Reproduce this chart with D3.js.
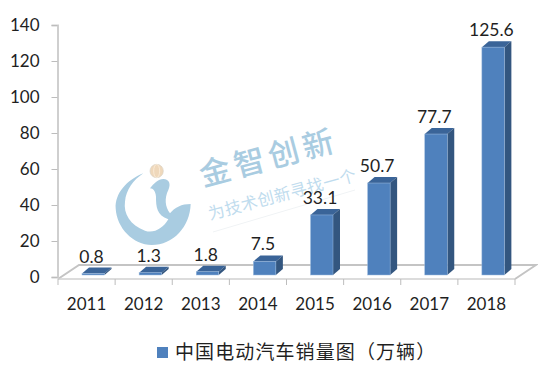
<!DOCTYPE html>
<html>
<head>
<meta charset="utf-8">
<script src="https://cdn.jsdelivr.net/npm/d3@7"></script>
<style>
    html, body { margin: 0; padding: 0; background: #fff; }
    svg { display: block; }
    text { fill: #1f1f1f; font-family: Lato, "Liberation Sans", sans-serif; }
</style>
</head>
<body>
<svg id="chart" width="538" height="372"></svg>
<script>
const years = ["2011", "2012", "2013", "2014", "2015", "2016", "2017", "2018"];
const sales = [0.8, 1.3, 1.8, 7.5, 33.1, 50.7, 77.7, 125.6];
const yTicks = [0, 20, 40, 60, 80, 100, 120, 140];
const legendLabel = "中国电动汽车销量图（万辆）";

const svg = d3.select("#chart");

const floor = { left: 58, right: 515, front: 279, back: 265, skewX: 21 };
const depth = { x: 7, y: 6 };
const barWidth = 22.5;
const cjkFont = '"Noto Sans CJK SC", sans-serif';

const x = d3.scaleBand().domain(years).range([floor.left, floor.right]);
const yAxisScale = d3.scaleLinear().domain([0, 140]).range([277, 25]);
const barScale = d3.scaleLinear().domain([0, 140]).range([275, 21]);

drawWatermark();
drawFloor();
drawAxes();
drawBars();
drawLegend();

function drawWatermark() {
    const color = "#a9cce1";
    const mark = svg.append("g").attr("id", "watermark");

    // logo traced at 3x, so the path reads the same as a zoomed crop
    const logo = mark.append("g").attr("transform", "translate(110,160) scale(0.3333)");
    logo.append("path")
        .attr("fill", color)
        .attr("d", "M100,40 C50,60 15,100 17,145 C20,205 70,255 125,255 C190,255 240,200 242,132 " +
            "C215,132 195,142 180,160 C165,140 163,115 175,90 C183,72 178,57 160,57 " +
            "C145,57 130,72 120,85 C130,85 137,95 138,110 C138,140 140,165 175,178 " +
            "C160,205 130,222 105,212 C60,195 40,160 45,125 C48,90 70,60 100,40 Z");
    logo.append("circle")
        .attr("cx", 140)
        .attr("cy", 33)
        .attr("r", 20)
        .attr("fill", "#efd8bb")
        .attr("stroke", "#d8d2c6")
        .attr("stroke-width", 2);
    logo.append("ellipse")
        .attr("cx", 140)
        .attr("cy", 33)
        .attr("rx", 9)
        .attr("ry", 20)
        .attr("fill", "none")
        .attr("stroke", "#fff3e2")
        .attr("stroke-width", 2);

    mark.append("text")
        .attr("transform", "translate(203,186.5) rotate(-15)")
        .style("font-family", cjkFont)
        .style("font-size", "31px")
        .style("font-weight", 500)
        .style("letter-spacing", "4.5px")
        .style("fill", color)
        .text("金智创新");
    mark.append("text")
        .attr("transform", "translate(210,220) rotate(-15)")
        .style("font-family", cjkFont)
        .style("font-size", "16.5px")
        .style("letter-spacing", "0.5px")
        .style("fill", "#bfdcee")
        .text("为技术创新寻找一个");
    mark.append("line")
        .attr("x1", 213)
        .attr("y1", 232)
        .attr("x2", 355)
        .attr("y2", 190)
        .attr("stroke", "#f0f3f5");
}

function drawFloor() {
    const g = svg.append("g").attr("id", "floor").attr("fill", "none");
    g.append("path")
        .attr("stroke", "#c4c4c4")
        .attr("stroke-width", 2)
        .attr("d", `M${floor.left},${floor.front}L${floor.left + floor.skewX},${floor.back}L${floor.right + floor.skewX},${floor.back}L${floor.right},${floor.front}`);
    g.append("line")
        .attr("x1", floor.left)
        .attr("x2", floor.right)
        .attr("y1", floor.front)
        .attr("y2", floor.front)
        .attr("stroke", "#d0d0d0")
        .attr("stroke-width", 1.5);
    g.selectAll(".floor-tick")
        .data(d3.range(years.length + 1))
        .join("line")
        .attr("class", "floor-tick")
        .attr("x1", i => floor.left + i * x.step())
        .attr("x2", i => floor.left + i * x.step())
        .attr("y1", floor.front)
        .attr("y2", 285)
        .attr("stroke", "#bdbdbd");
}

function drawAxes() {
    const yAxis = svg.append("g")
        .attr("transform", `translate(${floor.left - 0.5},0)`)
        .call(d3.axisLeft(yAxisScale).tickValues(yTicks).tickSize(6).tickPadding(12));
    yAxis.select(".domain").attr("stroke", "#cfcfcf").attr("stroke-width", 2);
    yAxis.selectAll(".tick line").attr("stroke", "#bdbdbd");
    yAxis.selectAll("text")
        .attr("font-family", null)
        .style("font-size", "17px");

    svg.append("g")
        .selectAll("text")
        .data(years)
        .join("text")
        .attr("x", d => x(d) + x.step() / 2)
        .attr("y", 310)
        .attr("text-anchor", "middle")
        .style("font-size", "17px")
        .text(d => d);
}

function drawBars() {
    const data = years.map((year, i) => ({ year, value: sales[i] }));
    const frontX = d => x(d.year) + 24;

    const bars = svg.append("g")
        .attr("id", "bars")
        .selectAll("g")
        .data(data)
        .join("g");

    bars.append("path")
        .attr("fill", "#3a6498")
        .attr("d", d => {
            const l = frontX(d), r = l + barWidth, t = barScale(d.value);
            return `M${l},${t}L${r},${t}L${r + depth.x},${t - depth.y}L${l + depth.x},${t - depth.y}Z`;
        });
    bars.append("path")
        .attr("fill", "#33567f")
        .attr("d", d => {
            const r = frontX(d) + barWidth, t = barScale(d.value), b = barScale(0);
            return `M${r},${t}L${r + depth.x},${t - depth.y}L${r + depth.x},${b - depth.y}L${r},${b}Z`;
        });
    bars.append("rect")
        .attr("x", frontX)
        .attr("y", d => barScale(d.value))
        .attr("width", barWidth)
        .attr("height", d => barScale(0) - barScale(d.value))
        .attr("fill", "#4f81bd")
        .attr("stroke", "#9dbbdd")
        .attr("stroke-width", 0.5);

    bars.append("text")
        .attr("x", d => frontX(d) + 9.5)
        .attr("y", d => barScale(d.value) - depth.y - 5)
        .attr("text-anchor", "middle")
        .style("font-size", "17.5px")
        .text(d => d.value);
}

function drawLegend() {
    const g = svg.append("g").attr("id", "legend");
    g.append("rect")
        .attr("x", 157)
        .attr("y", 347)
        .attr("width", 11)
        .attr("height", 11)
        .attr("fill", "#4f81bd");
    g.append("text")
        .attr("x", 175)
        .attr("y", 359)
        .style("font-family", cjkFont)
        .style("font-size", "19px")
        .style("letter-spacing", "1.1px")
        .text(legendLabel);
}
</script>
</body>
</html>
